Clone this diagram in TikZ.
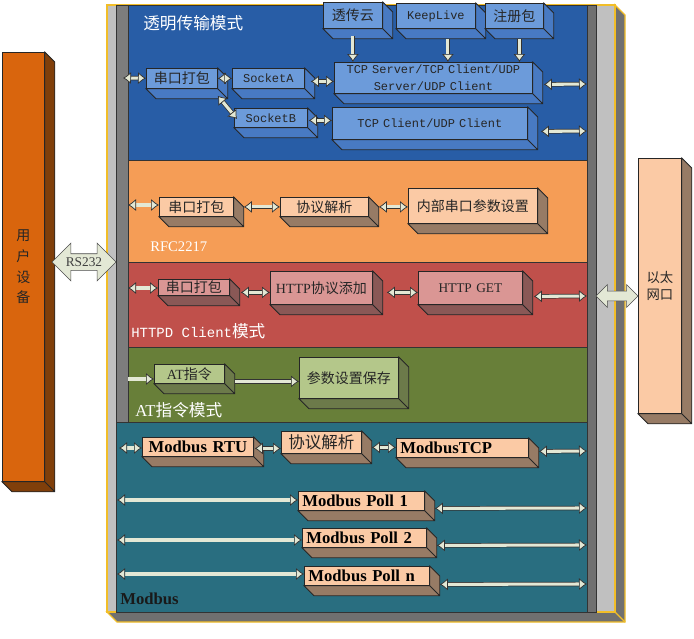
\documentclass[tikz,border=0pt]{standalone}
\usepackage{fontspec}
\setmainfont{Liberation Serif}
\setmonofont{Liberation Mono}
\newfontfamily\cjk{Noto Sans CJK SC}
\usetikzlibrary{arrows.meta,shapes.arrows}

\definecolor{framegold}{RGB}{242,190,40}
\definecolor{framegray}{RGB}{192,192,192}
\definecolor{stripgray}{RGB}{125,125,125}
\definecolor{depthgray}{RGB}{112,112,112}
\definecolor{secblue}{RGB}{40,93,166}
\definecolor{secorange}{RGB}{245,157,86}
\definecolor{secred}{RGB}{192,80,75}
\definecolor{secgreen}{RGB}{104,127,57}
\definecolor{secteal}{RGB}{41,110,128}
\definecolor{bluefront}{RGB}{108,155,218}
\definecolor{bluedepth}{RGB}{72,122,195}
\definecolor{peachfront}{RGB}{251,202,165}
\definecolor{peachdepth}{RGB}{151,123,101}
\definecolor{rosefront}{RGB}{218,150,148}
\definecolor{rosedepth}{RGB}{138,88,86}
\definecolor{olivefront}{RGB}{180,199,138}
\definecolor{olivedepth}{RGB}{108,122,74}
\definecolor{userfront}{RGB}{217,101,13}
\definecolor{userdepth}{RGB}{128,63,10}
\definecolor{linkfill}{RGB}{227,232,213}

\tikzset{
  blk/.style n args={4}{draw=black!85, line width=.6pt, anchor=north west,
    inner xsep=3pt, inner ysep=0pt, text width=(#1-8)*0.75pt,
    minimum height=#2*0.75pt, align=center, fill=#3, text=black!85,
    font=\cjk\fontsize{10.5}{13}\selectfont,
    append after command={\pgfextra{%
      \filldraw[fill=#4, draw=black!85, line width=.6pt]
        (\tikzlastnode.north east) -- ++(10,10)
        -- ([shift={(10,10)}]\tikzlastnode.south east)
        -- ([shift={(10,10)}]\tikzlastnode.south west)
        -- (\tikzlastnode.south west) -- (\tikzlastnode.south east) -- cycle
        (\tikzlastnode.south east) -- ++(10,10);}}},
  bluebox/.style 2 args={blk={#1}{#2}{bluefront}{bluedepth}},
  peachbox/.style 2 args={blk={#1}{#2}{peachfront}{peachdepth}},
  rosebox/.style 2 args={blk={#1}{#2}{rosefront}{rosedepth}},
  olivebox/.style 2 args={blk={#1}{#2}{olivefront}{olivedepth}},
  modbox/.style 2 args={peachbox={#1}{#2}, align=left, text=black,
    font=\rmfamily\bfseries\fontsize{12.5}{14}\selectfont},
  mono/.style={font=\ttfamily\fontsize{9}{12.5}\selectfont},
  seclabel/.style={anchor=west, text=white, inner sep=0pt},
  link/.style={draw=black!80, line width=.55pt, double=linkfill, double distance=2.3pt,
    >={Latex[length=6pt,width=9pt,line width=.55pt,fill=linkfill]}, <->},
  linkto/.style={link, ->},
  bigarrow/.style={double arrow, draw=black!70, fill=linkfill, line width=.5pt,
    inner xsep=0pt, text height=0pt, text depth=0pt, text width=0pt}
}

\begin{document}
\begin{tikzpicture}[x=0.75pt,y=-0.75pt]
\useasboundingbox (0,0) rectangle (694,639);
% frame
\filldraw[fill=depthgray, draw=framegold, line width=1pt] (615,5) -- (625,15) -- (625,622) -- (117,622) -- (107,612) -- (615,612) -- cycle;
\draw[framegold, line width=.8pt] (615,612) -- (625,622);
\filldraw[fill=framegray, draw=framegold, line width=1pt] (107,5) rectangle (615,612);
\filldraw[fill=stripgray, draw=black!80] (116,5) rectangle (128,422);
\filldraw[fill=depthgray, draw=black!80] (587,5) rectangle (596,612);
% sections
\filldraw[fill=secblue, draw=black!80] (128,5) rectangle (587,160);
\filldraw[fill=secorange, draw=black!80] (128,160) rectangle (587,262);
\filldraw[fill=secred, draw=black!80] (128,262) rectangle (587,347);
\filldraw[fill=secgreen, draw=black!80] (128,347) rectangle (587,422);
\filldraw[fill=secteal, draw=black!80] (116,422) rectangle (587,612);
\node (tBlue) at (143,23) [seclabel, font=\cjk\fontsize{12.5}{14}\selectfont] {透明传输模式};
\node (tRfc) at (150,247) [seclabel, font=\fontsize{11}{13}\selectfont] {RFC2217};
\node (tHttp) at (131,331) [seclabel, font=\cjk\fontsize{12.5}{14}\selectfont] {{\ttfamily\fontsize{10.5}{14}\selectfont HTTPD Client}模式};
\node (tAt) at (135,410) [seclabel, font=\cjk\fontsize{12.5}{14}\selectfont] {{\rmfamily AT}指令模式};
\node (tMod) at (120,599) [seclabel, text=black!90, font=\bfseries\fontsize{12.5}{14}\selectfont] {Modbus};

% transparent mode
\node (cloud) at (323,2) [bluebox={59}{26}] {透传云};
\node (keep) at (396,3) [bluebox={79}{25}, mono] {KeepLive};
\node (reg) at (485,3) [bluebox={58}{25}] {注册包};
\node (pkA) at (146,68) [bluebox={71}{20}] {串口打包};
\node (sockA) at (232,68) [bluebox={72}{20}, mono] {SocketA};
\node (sockB) at (234,108) [bluebox={73}{19}, mono] {SocketB};
\node (tcpS) at (334,62) [bluebox={198}{31}, mono] {TCP Server/TCP Client/UDP\\Server/UDP Client};
\node (tcpC) at (332,107) [bluebox={195}{32}, mono] {TCP Client/UDP Client};
% rfc2217
\node (pkB) at (159,197) [peachbox={74}{19}] {串口打包};
\node (parseB) at (280,197) [peachbox={88}{19}] {协议解析};
\node (param) at (408,188) [peachbox={129}{35}] {内部串口参数设置};
% httpd client
\node (pkC) at (158,279) [rosebox={71}{16}] {串口打包};
\node (httpAdd) at (270,271) [rosebox={102}{33}] {{\rmfamily HTTP}协议添加};
\node (httpGet) at (418,271) [rosebox={104}{33}, font=\rmfamily\fontsize{10}{12}\selectfont] {HTTP GET};
% at command
\node (atCmd) at (154,364) [olivebox={70}{19}] {{\rmfamily AT}指令};
\node (save) at (299,357) [olivebox={99}{41}] {参数设置保存};
% modbus
\node (rtu) at (142,437) [modbox={111}{19}, align=center] {Modbus RTU};
\node (parseM) at (281,431) [peachbox={80}{22}, font=\cjk\fontsize{12.4}{14}\selectfont] {协议解析};
\node (mtcp) at (396,438) [modbox={132}{19}] {ModbusTCP};
\node (poll1) at (298,491) [modbox={126}{19}] {Modbus Poll 1};
\node (poll2) at (302,528) [modbox={124}{19}] {Modbus Poll 2};
\node (polln) at (304,566) [modbox={125}{19}] {Modbus Poll n};

% side devices
\node (user) at (2,52) [blk={42}{429}{userfront}{userdepth}, font=\cjk\fontsize{10.5}{15.5}\selectfont] {用\\户\\设\\备};
\node (lan) at (638,158) [peachbox={43}{255}, font=\cjk\fontsize{10}{12.75}\selectfont] {以太\\网口};
\node (rs) at (84,262) [bigarrow, minimum height=48pt, inner ysep=6pt, double arrow head extend=7.9pt,
  label={[name=rsText, font=\fontsize{10}{11}\selectfont, text=black!75]center:RS232}] {};
\node (eth) at (617,296) [bigarrow, minimum height=31.5pt, inner ysep=3.4pt, double arrow head extend=4.9pt] {};

% connectors, transparent mode
\coordinate (wA) at (123,78);
\coordinate (rA) at (587,84);
\coordinate (rB) at (587,131);
\coordinate (cD) at ([shift={(0,7)}]cloud.south);
\coordinate (kD) at ([shift={(12,10)}]keep.south);
\coordinate (gD) at ([shift={(5,10)}]reg.south);
\draw[link] (wA) -- (pkA);
\draw[link] (pkA) -- (sockA);
\draw[link] ([shift={(0,7)}]pkA.south east) -- ([shift={(3,1)}]sockB.west);
\draw[link] ([shift={(6,3)}]sockA.east) -- ([shift={(0,3.5)}]tcpS.west);
\draw[link] ([shift={(1,2.5)}]sockB.east) -- ([shift={(0,-3)}]tcpC.west);
\draw[link] ([shift={(11,6.5)}]tcpS.east) -- (rA);
\draw[link] ([shift={(13,8)}]tcpC.east) -- (rB);
\draw[linkto] (cD) -- (cD |- tcpS.north);
\draw[linkto] (kD) -- (kD |- tcpS.north);
\draw[linkto] (gD) -- (gD |- tcpS.north);
% rfc2217
\coordinate (wB) at (128,205);
\draw[link] (wB) -- (wB -| pkB.west);
\draw[link] ([shift={(10,0)}]pkB.east) -- (parseB);
\draw[link] ([shift={(10,0)}]parseB.east) -- (param.west |- parseB.east);
% httpd client
\coordinate (wC) at (128,288);
\coordinate (rC) at (587,296);
\draw[link] (wC) -- (wC -| pkC.west);
\draw[link] ([shift={(11,5)}]pkC.east) -- ([shift={(0,4.5)}]httpAdd.west);
\draw[link] ([shift={(14,4.5)}]httpAdd.east) -- ([shift={(0,4.5)}]httpGet.west);
\draw[link] ([shift={(11,8.5)}]httpGet.east) -- (rC);
% at command
\coordinate (wD) at (128,379);
\draw[linkto] (wD) -- (wD -| atCmd.west);
\draw[linkto] ([shift={(10,7.5)}]atCmd.east) -- ([shift={(0,3.5)}]save.west);
% modbus
\coordinate (wE) at (119,448);
\coordinate (rE) at (587,451);
\draw[link] (wE) -- (wE -| rtu.west);
\draw[link] ([shift={(1,1.5)}]rtu.east) -- ([shift={(0,6)}]parseM.west);
\draw[link] ([shift={(10,5)}]parseM.east) -- ([shift={(0,-0.5)}]mtcp.west);
\draw[link] ([shift={(10,3.5)}]mtcp.east) -- (rE);
\coordinate (wF1) at (117,500);
\coordinate (rF1) at (587,508);
\coordinate (wF2) at (117,540);
\coordinate (rF2) at (587,545);
\coordinate (wF3) at (117,574);
\coordinate (rF3) at (587,584);
\draw[link] (wF1) -- (wF1 -| poll1.west);
\draw[link] ([shift={(10,7.5)}]poll1.east) -- (rF1);
\draw[link] (wF2) -- (wF2 -| poll2.west);
\draw[link] ([shift={(10,7.5)}]poll2.east) -- (rF2);
\draw[link] (wF3) -- (wF3 -| polln.west);
\draw[link] ([shift={(10,8.5)}]polln.east) -- (rF3);
\end{tikzpicture}
\end{document}
